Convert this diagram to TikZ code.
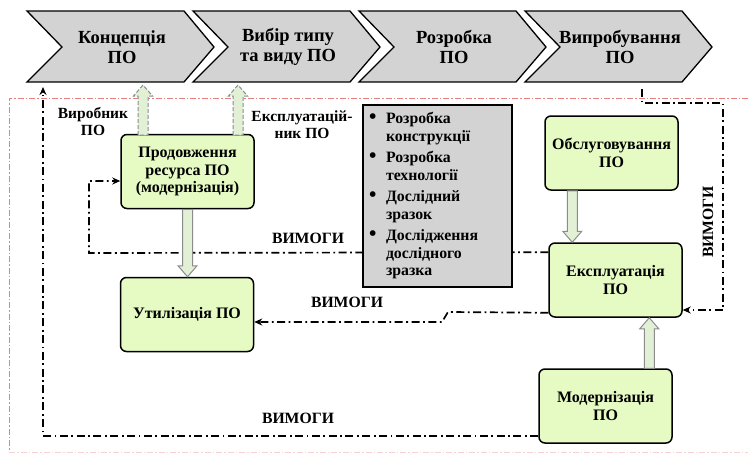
\documentclass[tikz,border=0pt]{standalone}
\usepackage{fontspec}
\setmainfont{Liberation Serif}
\usetikzlibrary{
    arrows.meta,
    calc,
    positioning
}
\pgfdeclarelayer{bg}
\pgfsetlayers{bg,main}

\definecolor{stagegray}{RGB}{211,211,211}
\definecolor{boxgreen}{RGB}{230,250,196}
\definecolor{arrowgreen}{RGB}{226,241,214}
\definecolor{framered}{RGB}{228,128,128}

\tikzset{
    stage/.style={draw=black, line width=1.3pt, fill=stagegray, line join=miter},
    stagetext/.style={font=\bfseries\fontsize{18.5}{20}\selectfont, align=center},
    phase/.style={draw=black, line width=1.5pt, fill=boxgreen, rounded corners=6pt,
        minimum width=133pt, minimum height=74pt, align=center, inner sep=2pt,
        font=\bfseries\fontsize{16}{17.5}\selectfont},
    devbox/.style={draw=black, line width=1.3pt, fill=stagegray,
        minimum width=149pt, minimum height=182pt, text width=137pt,
        inner xsep=6pt, align=left, font=\bfseries\fontsize{15.8}{17.5}\selectfont},
    fatline/.style={draw=black!45, line width=1pt, fill=arrowgreen, line join=miter},
    req/.style={line width=1.7pt, dash pattern=on 8pt off 3.5pt on 1.8pt off 3.5pt},
    reqtip/.style={-{Stealth[length=8pt, width=7pt]}},
    reqlabel/.style={font=\bfseries\fontsize{15.7}{17}\selectfont},
    who/.style={font=\bfseries\fontsize{15.5}{17}\selectfont, align=center},
    frame/.style={draw=framered, line width=1pt, dash pattern=on 6pt off 2pt on 1.5pt off 2pt}
}

% hollow block arrow from #2 to #3
\newcommand{\fatarrow}[3][]{%
    \draw[fatline,#1]
    ($(#2)!5pt!90:(#3)$) --
    ($(#3)!11pt!(#2)!5pt!90:(#3)$) --
    ($(#3)!11pt!(#2)!9.5pt!90:(#3)$) --
    (#3) --
    ($(#3)!11pt!(#2)!9.5pt!-90:(#3)$) --
    ($(#3)!11pt!(#2)!5pt!-90:(#3)$) --
    ($(#2)!5pt!-90:(#3)$) -- cycle;}

\newcommand{\bul}{\makebox[17pt][l]{\fontsize{21}{17}\selectfont\textbullet}}
\newcommand{\itm}[2]{\bul#1\\\hspace*{17pt}#2}

\begin{document}
\begin{tikzpicture}[x=1pt, y=-1pt]
    \useasboundingbox (0,0) rectangle (748,455);

    % stages
    \foreach \i/\txt in {0/{Концепція\\ПО}, 1/{Вибір типу\\та виду ПО},
                         2/{Розробка\\ПО}, 3/{Випробування\\ПО}} {
        \begin{scope}[shift={(27+166*\i,0)}]
            \draw[stage] (0,11) -- (157,11) -- (187,47) -- (157,82) -- (0,82) -- (35,47) -- cycle;
            \node[stagetext] (st\i) at (95,47) {\txt};
        \end{scope}
    }

    % phases
    \node[phase] (prod) at (187.5,171.5) {Продовження\\ресурса ПО\\(модернізація)};
    \node[phase] (util) at (187,314.5) {Утилізація ПО};
    \node[phase] (obsl) at (611.5,153) {Обслуговування\\ПО};
    \node[phase] (expl) at (615.5,280) {Експлуатація\\ПО};
    \node[phase] (modern) at (605.5,406) {Модернізація\\ПО};

    \node[devbox] (dev) at (437.5,196) {%
        \itm{Розробка}{конструкції}\\[4pt]
        \itm{Розробка}{технології}\\[4pt]
        \itm{Дослідний}{зразок}\\[4pt]
        \itm{Дослідження}{дослідного}\\\hspace*{17pt}зразка};

    \node[who] (maker) at (93,122) {Виробник\\ПО};
    \node[who] (user) at (302,125) {Експлуатацій-\\ник ПО};

    % block arrows
    \coordinate (ab1) at (143,135);
    \coordinate (at1) at (143,85);
    \coordinate (ab2) at (238,135);
    \coordinate (at2) at (238,85);
    \coordinate (pu) at (prod.south |- util.north);
    \coordinate (o1) at ($(obsl.south west)+(28,0)$);
    \coordinate (o2) at (o1 |- expl.north);
    \coordinate (m1) at ($(modern.north west)+(111,0)$);
    \coordinate (m2) at (m1 |- expl.south);
    \fatarrow[dash pattern=on 4pt off 2pt]{ab1}{at1}
    \fatarrow[dash pattern=on 4pt off 2pt]{ab2}{at2}
    \fatarrow{prod.south}{pu}
    \fatarrow{o1}{o2}
    \fatarrow{m1}{m2}

    % requirements
    \coordinate (lt) at (43,87);
    \coordinate (lc) at (89,253);
    \coordinate (j1) at (448,312);
    \coordinate (j2) at (442,322);
    \coordinate (rs) at (642,89);
    \coordinate (r1) at (642,103);
    \coordinate (r2) at (723,103);
    \begin{pgfonlayer}{bg}
        \draw[frame] (748,98) -- (9,98) -- (9,452);
        \draw[frame, draw=framered!35] (9,452) -- (748,452);
        \draw[req, reqtip] ([yshift=8pt]modern.south west) -| (lt);
        \draw[req, reqtip] ([yshift=-10pt]expl.north west) -- (lc) |- ([yshift=-9.5pt]prod.west);
        \draw[req, reqtip] ([yshift=5pt]expl.south west) -- (j1) -- (j2) -- (j2 -| util.east);
        \draw[req, reqtip] (rs) -- (r1) -- (r2) |- ([yshift=-30pt]expl.east);
    \end{pgfonlayer}

    \node[reqlabel] (req1) at (308,238) {ВИМОГИ};
    \node[reqlabel] (req2) at (347,302) {ВИМОГИ};
    \node[reqlabel] (req3) at (298,418) {ВИМОГИ};
    \node[reqlabel, rotate=90] (req4) at (708,222) {ВИМОГИ};
\end{tikzpicture}
\end{document}
